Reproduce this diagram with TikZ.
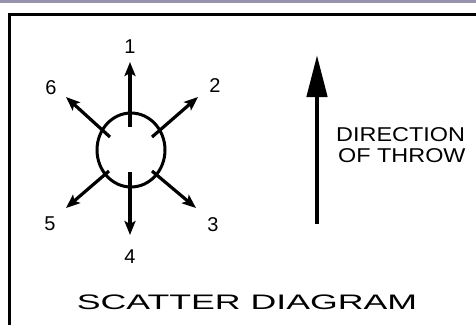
\documentclass[tikz,border=0pt]{standalone}
\usepackage{fontspec}
\setmainfont{Liberation Sans}
\usetikzlibrary{arrows.meta,shapes.geometric}
\definecolor{bandgray}{RGB}{150,148,172}
\tikzset{
  ray/.style={line width=3.2pt,-{Stealth[length=14pt,width=11pt,inset=3pt]}},
  num/.style={font=\fontsize{20}{20}\selectfont,inner sep=0pt},
  captext/.style={font=\fontsize{21}{21}\selectfont,inner sep=0pt},
  dirtext/.style={font=\fontsize{20}{20}\selectfont,inner sep=0pt,anchor=west},
  frame/.style={line width=3pt,black},
}
\begin{document}
\begin{tikzpicture}[x=1pt,y=-1pt]
\useasboundingbox (0,0) rectangle (476,324);
\fill[white] (0,0) rectangle (476,324);
\fill[bandgray] (0,0) rectangle (476,3);
% frame
\coordinate (fa) at (9,330);
\coordinate (fb) at (9,14);
\coordinate (fc) at (480,14);
\draw[frame] (fa) -- (fb) -- (fc);
% ellipse
\node[draw,line width=3pt,ellipse,minimum width=68pt,minimum height=74pt,inner sep=0pt] (c) at (131,150) {};
% ray starts and tips
\coordinate (s1) at (130,127); \coordinate (t1) at (130,62);
\coordinate (s2) at (152,137); \coordinate (t2) at (198,97);
\coordinate (s3) at (152,171); \coordinate (t3) at (196,208);
\coordinate (s4) at (130,172); \coordinate (t4) at (130,235);
\coordinate (s5) at (109,171); \coordinate (t5) at (66,208);
\coordinate (s6) at (110,137); \coordinate (t6) at (66,97);
\foreach \i in {1,...,6} \draw[ray] (s\i) -- (t\i);
% numbers
\node[num] (n1) at (130,47) {1};
\node[num] (n2) at (215,86) {2};
\node[num] (n3) at (213,225) {3};
\node[num] (n4) at (130,257) {4};
\node[num] (n5) at (50,224) {5};
\node[num] (n6) at (51,88) {6};
% direction of throw
\coordinate (ds) at (317,224);
\coordinate (dt) at (317,55);
\draw[line width=4.5pt,-{Triangle[length=42pt,width=20pt]}] (ds) -- (dt);
\node[dirtext] (d1) at (336,135) {\scalebox{1.17}[1]{DIRECTION}};
\node[dirtext] (d2) at (338,156) {\scalebox{1.17}[1]{OF THROW}};
% title
\node[captext] (title) at (247,302) {\scalebox{1.7}[1]{SCATTER DIAGRAM}};
\end{tikzpicture}
\end{document}
